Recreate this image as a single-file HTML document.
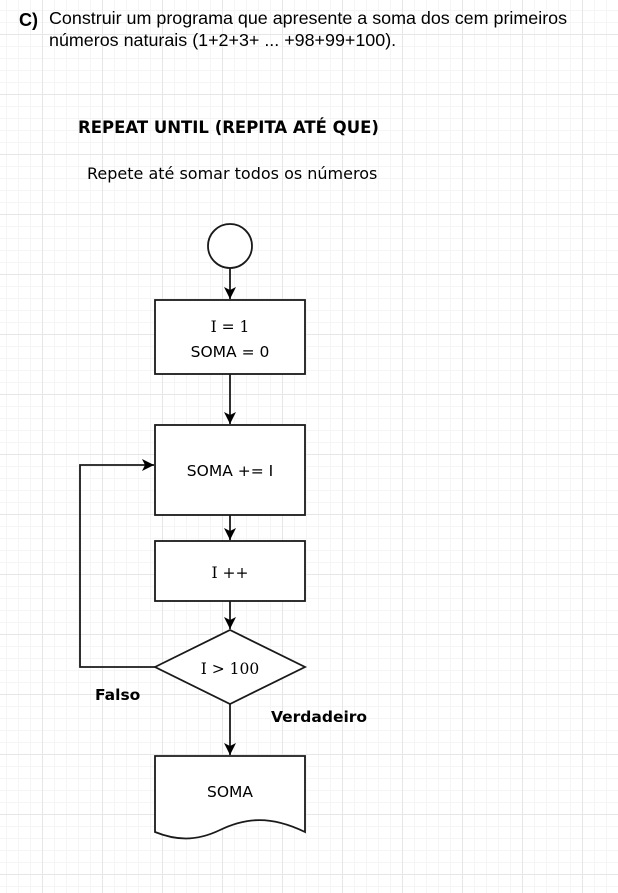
<!DOCTYPE html>
<html><head><meta charset="utf-8"><style>
html,body{margin:0;padding:0;background:#fff;}
body{width:618px;height:893px;position:relative;overflow:hidden;
background-image:
linear-gradient(#e6e6e6 1px,transparent 1px),linear-gradient(90deg,#e6e6e6 1px,transparent 1px),
linear-gradient(#f5f5f5 1px,transparent 1px),linear-gradient(90deg,#f5f5f5 1px,transparent 1px);
background-size:60px 60px,60px 60px,12px 12px,12px 12px;
background-position:0 34px,42px 0,0 34px,42px 0;
font-family:"Liberation Sans",sans-serif;}
.t{position:absolute;white-space:nowrap;color:#000;}
</style></head><body>
<div class="t" style="left:19px;top:10px;font-size:18px;font-weight:bold;">C)</div>
<div class="t" style="left:49px;top:7px;font-size:17.9px;line-height:22px;">Construir um programa que apresente a soma dos cem primeiros<br>números naturais (1+2+3+ ... +98+99+100).</div>
<div class="t" style="left:78px;top:118px;font-size:16.5px;font-weight:bold;font-family:'DejaVu Sans',sans-serif;">REPEAT UNTIL (REPITA ATÉ QUE)</div>
<div class="t" style="left:87px;top:164px;font-size:16px;font-family:'DejaVu Sans',sans-serif;">Repete até somar todos os números</div>
<svg width="618" height="893" style="position:absolute;left:0;top:0" font-size="16">
<defs><marker id="a" markerWidth="14" markerHeight="14" refX="12" refY="6" orient="auto" markerUnits="userSpaceOnUse"><path d="M0,0 L12,6 L0,12 L3,6 z" fill="#000"/></marker></defs>
<g stroke="#1a1a1a" stroke-width="1.8" fill="#fff">
<circle cx="230" cy="246" r="22"/>
<rect x="155" y="300" width="150" height="74"/>
<rect x="155" y="425" width="150" height="90"/>
<rect x="155" y="541" width="150" height="60"/>
<path d="M155,667 L230,630 L305,667 L230,704 Z"/>
<path d="M155,756 L305,756 L305,832 C270,815 245,818 220,830 C195,842 175,840 155,832 Z"/>
<g fill="none">
<path d="M230,268 V299" marker-end="url(#a)"/>
<path d="M230,374 V424" marker-end="url(#a)"/>
<path d="M230,515 V540" marker-end="url(#a)"/>
<path d="M230,601 V629" marker-end="url(#a)"/>
<path d="M230,704 V755" marker-end="url(#a)"/>
<path d="M155,667 H80 V465 H154" marker-end="url(#a)"/>
</g></g>
<g text-anchor="middle" fill="#000">
<text x="230" y="332" font-family="DejaVu Serif,serif" font-size="15.5">I = 1</text>
<text x="230" y="357" font-family="DejaVu Sans,sans-serif" font-size="15.5">SOMA = 0</text>
<text x="230" y="476" font-family="DejaVu Sans,sans-serif" font-size="15.5">SOMA += I</text>
<text x="230" y="578" font-family="DejaVu Serif,serif" font-size="15.5">I ++</text>
<text x="230" y="674" font-family="DejaVu Serif,serif" font-size="15.5">I &gt; 100</text>
<text x="230" y="797" font-family="DejaVu Sans,sans-serif" font-size="15.5">SOMA</text>
</g>
<text x="95" y="700" font-weight="bold" font-family="DejaVu Sans,sans-serif" font-size="15.5">Falso</text>
<text x="271" y="722" font-weight="bold" font-family="DejaVu Sans,sans-serif" font-size="15.5">Verdadeiro</text>
</svg>
</body></html>
